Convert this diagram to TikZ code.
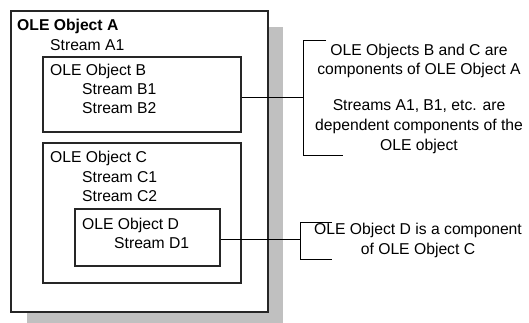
\documentclass[tikz,border=0pt]{standalone}
\usepackage{fontspec}
\setmainfont{Liberation Sans}
\definecolor{shadowgray}{HTML}{C0C0C0}
\begin{document}
\begin{tikzpicture}[x=1pt,y=-1pt,
  box/.style={draw=black!85,line width=1.3pt,fill=white,inner sep=0pt},
  lbl/.style={anchor=base west,inner sep=0pt,font=\fontsize{15.7}{19}\selectfont},
  note/.style={anchor=base,inner sep=0pt,align=center,font=\fontsize{15.7}{19.7}\selectfont},
  conn/.style={draw=black,line width=1pt}]
\useasboundingbox (0,0) rectangle (529,323);
% shadow
\fill[shadowgray] (27,27) rectangle (283,323);
% boxes
\node[box,minimum width=257,minimum height=301] (A) at (139.5,161.5) {};
\node[box,minimum width=198,minimum height=75] (B) at (142,94.5) {};
\node[box,minimum width=198,minimum height=140] (C) at (142,213) {};
\node[box,minimum width=145,minimum height=57] (D) at (147.5,237.5) {};
% texts
\node[lbl,font=\fontsize{15.7}{19}\selectfont\bfseries] (tA) at (17,30.5) {OLE Object A};
\node[lbl] (tA1) at (50,51) {Stream A1};
\node[lbl] (tB) at (50,76) {OLE Object B};
\node[lbl] (tB1) at (82,95) {Stream B1};
\node[lbl] (tB2) at (82,114) {Stream B2};
\node[lbl] (tC) at (50,162.5) {OLE Object C};
\node[lbl] (tC1) at (82,182) {Stream C1};
\node[lbl] (tC2) at (82,201.5) {Stream C2};
\node[lbl] (tD) at (82,229) {OLE Object D};
\node[lbl] (tD1) at (114,248) {Stream D1};
% notes (base anchor = last line baseline)
\node[note] (n1) at (419,75) {OLE Objects B and C are\\components of OLE Object A};
\node[note] (n2) at (419,150) {Streams A1, B1, etc. are\\dependent components of the\\OLE object};
\node[note] (n3) at (418,254) {OLE Object D is a component\\of OLE Object C};
% bracket coordinates
\coordinate (b1) at (303,97.5);
\coordinate (b1t) at (303,41);
\coordinate (b1b) at (303,155);
\coordinate (b2) at (300,239.5);
\coordinate (b2t) at (300,222);
\coordinate (b2b) at (300,259);
% connectors
\draw[conn] ([yshift=-3pt]B.east) -- (b1);
\draw[conn] (326,41) -- (b1t) -- (b1b) -- (343,155);
\draw[conn] ([yshift=-2pt]D.east) -- (b2);
\draw[conn] (332,222) -- (b2t) -- (b2b) -- (332,259);
\end{tikzpicture}
\end{document}
